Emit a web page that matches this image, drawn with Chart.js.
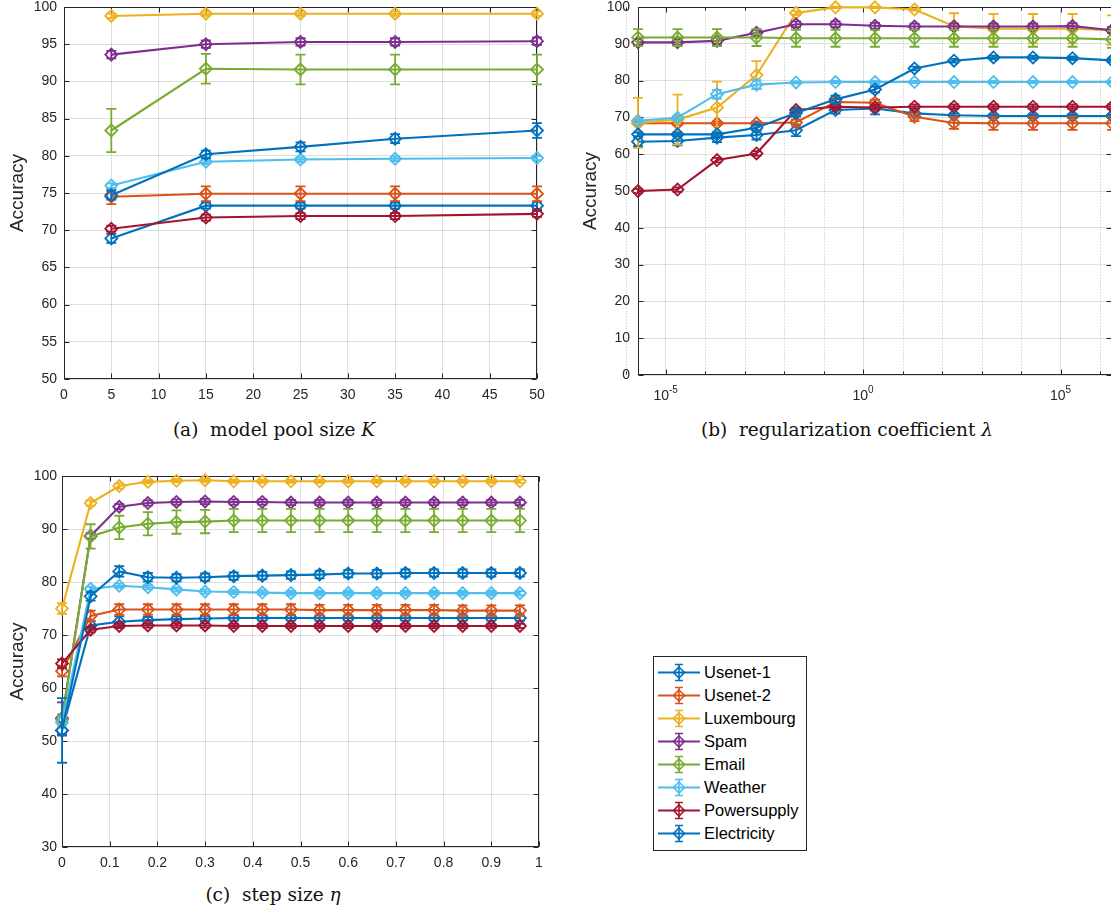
<!DOCTYPE html>
<html>
<head>
<meta charset="utf-8">
<script src="https://cdn.jsdelivr.net/npm/chart.js@4.4.1/dist/chart.umd.min.js"></script>
<style>
html,body{margin:0;padding:0;background:#fff;overflow:hidden;}
#page{position:relative;width:1111px;height:915px;overflow:hidden;background:#fff;}
canvas{position:absolute;}
.cap{position:absolute;font-family:"DejaVu Serif",serif;font-size:18.5px;line-height:18px;color:#111;white-space:nowrap;transform:translateX(-50%);}
#legend{position:absolute;left:653px;top:656px;width:152px;height:189px;border:1px solid #262626;background:#fff;padding-top:4px;box-sizing:content-box;}
#legend .row{display:flex;align-items:center;height:23px;}
#legend svg{margin-left:2px;flex:none;}
#legend span{font-family:"Liberation Sans",Arial,sans-serif;font-size:16.5px;color:#000;}
</style>
</head>
<body>
<div id="page">
  <canvas id="chA"></canvas>
  <canvas id="chB"></canvas>
  <canvas id="chC"></canvas>
  <div class="cap" style="left:274px;top:421px">(a)&nbsp; model pool size <i>K</i></div>
  <div class="cap" style="left:847px;top:421px">(b)&nbsp; regularization coefficient <i>λ</i></div>
  <div class="cap" style="left:273px;top:886px">(c)&nbsp; step size <i>η</i></div>
  <div id="legend"></div>
</div>
<script>
// series order follows the legend
const SERIES = ['Usenet-1', 'Usenet-2', 'Luxembourg', 'Spam', 'Email', 'Weather', 'Powersupply', 'Electricity'];
const COLORS = ['#0072BD', '#D95319', '#EDB120', '#7E2F8E', '#77AC30', '#4DBEEE', '#A2142F', '#0072BD'];

// (a) model pool size K
const poolK = [5, 15, 25, 35, 50];
const accK = [
  [68.9, 73.3, 73.3, 73.3, 73.3],
  [74.5, 74.9, 74.9, 74.9, 74.9],
  [98.8, 99.1, 99.1, 99.1, 99.1],
  [93.6, 95.0, 95.3, 95.3, 95.4],
  [83.4, 91.7, 91.6, 91.6, 91.6],
  [76.0, 79.2, 79.5, 79.6, 79.7],
  [70.2, 71.7, 71.9, 71.9, 72.2],
  [74.7, 80.2, 81.2, 82.3, 83.4]
];
const errK = [
  [0.6, 0.4, 0.4, 0.4, 0.5],
  [1.0, 1.0, 1.0, 1.0, 1.0],
  [0.3, 0.3, 0.3, 0.3, 0.3],
  [0.5, 0.5, 0.5, 0.5, 0.5],
  [2.9, 2.0, 2.0, 2.0, 2.0],
  [0.3, 0.3, 0.3, 0.3, 0.3],
  [0.4, 0.4, 0.4, 0.4, 0.4],
  [0.6, 0.5, 0.6, 0.6, 1.0]
];
const kTicksStep = 5;

// (b) regularization coefficient lambda
const lambdas = [2e-6, 2e-5, 2e-4, 2e-3, 2e-2, 2e-1, 2, 20, 200, 2e3, 2e4, 2e5, 2e6];
const accLambda = [
  [63.4, 63.6, 64.5, 65.2, 66.5, 72.0, 72.4, 71.1, 70.6, 70.4, 70.4, 70.4, 70.4],
  [68.4, 68.4, 68.4, 68.4, 68.6, 74.2, 74.0, 70.2, 68.5, 68.4, 68.4, 68.4, 68.4],
  [68.5, 69.4, 72.7, 81.5, 98.4, 99.9, 99.9, 99.3, 94.8, 94.1, 94.1, 94.1, 93.7],
  [90.4, 90.4, 90.8, 93.0, 95.3, 95.3, 94.9, 94.7, 94.7, 94.7, 94.7, 94.8, 93.7],
  [91.7, 91.7, 91.7, 91.7, 91.5, 91.5, 91.5, 91.5, 91.5, 91.5, 91.5, 91.5, 91.2],
  [69.1, 69.9, 76.3, 78.9, 79.5, 79.6, 79.6, 79.6, 79.6, 79.6, 79.6, 79.6, 79.6],
  [50.0, 50.4, 58.4, 60.2, 72.0, 72.9, 72.7, 72.9, 72.9, 72.9, 72.9, 72.9, 72.9],
  [65.4, 65.4, 65.4, 67.2, 71.2, 74.9, 77.6, 83.3, 85.4, 86.3, 86.3, 86.1, 85.5]
];
const errLambda = [
  [1.2, 1.2, 1.2, 1.2, 1.6, 1.0, 1.6, 0.6, 0.5, 0.5, 0.5, 0.5, 0.5],
  [0.5, 0.5, 0.5, 0.5, 0.8, 0.8, 0.8, 1.2, 1.6, 1.8, 1.8, 1.8, 1.8],
  [6.8, 6.8, 7.0, 3.8, 0.5, 0.2, 0.2, 0.3, 3.5, 4.0, 4.0, 4.0, 4.0],
  [0.8, 0.8, 0.8, 0.8, 0.8, 0.8, 0.8, 0.8, 0.8, 0.8, 0.8, 0.8, 0.8],
  [2.3, 2.3, 2.3, 2.3, 2.3, 2.3, 2.3, 2.3, 2.3, 2.3, 2.3, 2.3, 2.3],
  [0.5, 0.5, 1.2, 1.2, 0.3, 0.3, 0.3, 0.3, 0.3, 0.3, 0.3, 0.3, 0.3],
  [0.6, 0.6, 0.6, 0.6, 0.6, 0.6, 0.6, 0.6, 0.6, 0.6, 0.6, 0.6, 0.6],
  [0.5, 0.5, 0.5, 0.8, 1.0, 1.0, 0.8, 0.5, 0.5, 0.5, 0.5, 0.5, 0.5]
];
const lambdaMajor = [1e-5, 1, 1e5];
const lambdaExp = ['-5', '0', '5'];
const lambdaMinor = [1e-6, 1e-4, 1e-3, 1e-2, 1e-1, 10, 100, 1e3, 1e4, 1e6];

// (c) step size eta
const etas = [0, 0.06, 0.12, 0.18, 0.24, 0.30, 0.36, 0.42, 0.48, 0.54, 0.60, 0.66, 0.72, 0.78, 0.84, 0.90, 0.96];
const accEta = [
  [52.0, 71.8, 72.5, 72.8, 73.0, 73.1, 73.2, 73.2, 73.2, 73.2, 73.2, 73.2, 73.2, 73.2, 73.2, 73.2, 73.2],
  [63.2, 73.6, 74.8, 74.8, 74.8, 74.8, 74.8, 74.8, 74.8, 74.7, 74.7, 74.7, 74.7, 74.7, 74.6, 74.6, 74.6],
  [75.0, 94.9, 98.1, 98.9, 99.1, 99.2, 99.0, 99.0, 99.0, 99.0, 99.0, 99.0, 99.0, 99.0, 99.0, 99.0, 99.0],
  [54.3, 88.7, 94.2, 94.9, 95.1, 95.2, 95.1, 95.1, 95.0, 95.0, 95.0, 95.0, 95.0, 95.0, 95.0, 95.0, 95.0],
  [54.0, 88.6, 90.3, 91.0, 91.3, 91.4, 91.6, 91.6, 91.6, 91.6, 91.6, 91.6, 91.6, 91.6, 91.6, 91.6, 91.6],
  [53.5, 78.7, 79.3, 79.0, 78.6, 78.2, 78.1, 78.0, 77.9, 77.9, 77.9, 77.9, 77.9, 77.9, 77.9, 77.9, 77.9],
  [64.6, 71.0, 71.7, 71.8, 71.8, 71.8, 71.7, 71.7, 71.7, 71.7, 71.7, 71.7, 71.7, 71.7, 71.7, 71.7, 71.7],
  [52.0, 77.3, 82.0, 80.9, 80.8, 80.9, 81.1, 81.2, 81.3, 81.4, 81.6, 81.6, 81.7, 81.7, 81.7, 81.7, 81.7]
];
const errEta = [
  [1.0, 0.8, 1.0, 0.6, 0.5, 0.5, 0.5, 0.5, 0.5, 0.5, 0.5, 0.5, 0.5, 0.5, 0.5, 0.5, 0.5],
  [1.0, 1.0, 1.0, 1.0, 1.0, 1.0, 1.0, 1.0, 1.0, 1.0, 1.0, 1.0, 1.0, 1.0, 1.0, 1.0, 1.0],
  [1.0, 0.5, 0.5, 0.3, 0.3, 0.3, 0.3, 0.3, 0.3, 0.3, 0.3, 0.3, 0.3, 0.3, 0.3, 0.3, 0.3],
  [3.0, 0.5, 0.5, 0.5, 0.5, 0.5, 0.5, 0.5, 0.5, 0.5, 0.5, 0.5, 0.5, 0.5, 0.5, 0.5, 0.5],
  [1.0, 2.3, 2.2, 2.2, 2.2, 2.2, 2.2, 2.2, 2.2, 2.2, 2.2, 2.2, 2.2, 2.2, 2.2, 2.2, 2.2],
  [1.0, 0.4, 0.4, 0.4, 0.4, 0.4, 0.4, 0.4, 0.4, 0.4, 0.4, 0.4, 0.4, 0.4, 0.4, 0.4, 0.4],
  [0.8, 0.5, 0.4, 0.4, 0.4, 0.4, 0.4, 0.4, 0.4, 0.4, 0.4, 0.4, 0.4, 0.4, 0.4, 0.4, 0.4],
  [6.1, 0.8, 1.0, 0.8, 0.7, 0.7, 0.7, 0.7, 0.7, 0.7, 0.7, 0.7, 0.7, 0.7, 0.7, 0.7, 0.7]
];

const AX = '#262626';
const GRID = 'rgba(38,38,38,0.15)';
const SANS = '"Liberation Sans", Arial, sans-serif';

// error bars, drawn with the chart's own y scale
const errorBars = {
  id: 'errorBars',
  afterDatasetDraw(chart, args) {
    const ds = chart.data.datasets[args.index];
    if (!ds.err) return;
    const ys = chart.scales.y, ctx = chart.ctx;
    ctx.save();
    ctx.strokeStyle = ds.borderColor; ctx.lineWidth = 1.8;
    args.meta.data.forEach((pt, i) => {
      const e = ds.err[i]; if (!e) return;
      const v = ds.data[i].y;
      const t = ys.getPixelForValue(v + e), b = ys.getPixelForValue(v - e);
      ctx.beginPath();
      ctx.moveTo(pt.x, t); ctx.lineTo(pt.x, b);
      ctx.moveTo(pt.x - 5, t); ctx.lineTo(pt.x + 5, t);
      ctx.moveTo(pt.x - 5, b); ctx.lineTo(pt.x + 5, b);
      ctx.stroke();
    });
    ctx.restore();
  }
};

// matlab style box: frame, inward ticks, dotted minor grid, 10^n labels
const axesBox = {
  id: 'axesBox',
  beforeDatasetsDraw(chart, args, o) {
    const {ctx, chartArea: a, scales: {x, y}} = chart;
    const L = Math.round(a.left) + 0.5, R = Math.round(a.right) - 0.5;
    const T = Math.round(a.top) + 0.5, B = Math.round(a.bottom) - 0.5;
    ctx.save();
    if (o.minor) {
      ctx.strokeStyle = 'rgba(38,38,38,0.3)'; ctx.lineWidth = 1; ctx.setLineDash([1, 2]);
      o.minor.forEach(v => {
        const px = Math.round(x.getPixelForValue(v)) + 0.5;
        ctx.beginPath(); ctx.moveTo(px, T); ctx.lineTo(px, B); ctx.stroke();
      });
      ctx.setLineDash([]);
    }
    ctx.strokeStyle = AX; ctx.lineWidth = 1;
    ctx.beginPath();
    x.ticks.forEach(t => {
      const px = Math.round(x.getPixelForValue(t.value)) + 0.5;
      ctx.moveTo(px, B); ctx.lineTo(px, B - 5); ctx.moveTo(px, T); ctx.lineTo(px, T + 5);
    });
    (o.minor || []).forEach(v => {
      const px = Math.round(x.getPixelForValue(v)) + 0.5;
      ctx.moveTo(px, B); ctx.lineTo(px, B - 3); ctx.moveTo(px, T); ctx.lineTo(px, T + 3);
    });
    y.ticks.forEach(t => {
      const py = Math.round(y.getPixelForValue(t.value)) + 0.5;
      ctx.moveTo(L, py); ctx.lineTo(L + 5, py); ctx.moveTo(R, py); ctx.lineTo(R - 5, py);
    });
    ctx.stroke();
    ctx.strokeRect(L, T, R - L, B - T);
    ctx.restore();
  },
  afterDraw(chart, args, o) {
    if (!o.sup) return;
    const {ctx, chartArea: a, scales: {x}} = chart;
    ctx.save();
    ctx.fillStyle = AX; ctx.textAlign = 'left'; ctx.textBaseline = 'alphabetic';
    o.sup.forEach((v, i) => {
      const px = x.getPixelForValue(v), e = o.exp[i];
      ctx.font = '14px ' + SANS; const w1 = ctx.measureText('10').width;
      ctx.font = '10px ' + SANS; const w2 = ctx.measureText(e).width;
      const x0 = px - (w1 + w2) / 2;
      ctx.font = '14px ' + SANS; ctx.fillText('10', x0, a.bottom + 25);
      ctx.font = '10px ' + SANS; ctx.fillText(e, x0 + w1, a.bottom + 18);
    });
    ctx.restore();
  }
};

function makeSets(xs, acc, err) {
  return SERIES.map((name, s) => ({
    label: name,
    data: xs.map((x, i) => ({x: x, y: acc[s][i]})),
    err: err[s],
    borderColor: COLORS[s],
    pointBorderColor: COLORS[s],
    pointBackgroundColor: 'rgba(0,0,0,0)',
    pointStyle: 'rectRot',
    pointRadius: 6,
    pointBorderWidth: 1.8,
    borderWidth: 2.1,
    tension: 0,
    order: SERIES.length - s,
    clip: false
  }));
}

// sizes the canvas so the plot area lands on the given page rectangle
function mount(id, area, yW, xH) {
  const pad = {left: 6, top: 20, right: 30, bottom: 6};
  const cv = document.getElementById(id);
  const w = area.r - area.l + yW + pad.left + pad.right;
  const h = area.b - area.t + xH + pad.top + pad.bottom;
  cv.width = w; cv.height = h;
  cv.style.width = w + 'px'; cv.style.height = h + 'px';
  cv.style.left = (area.l - yW - pad.left) + 'px';
  cv.style.top = (area.t - pad.top) + 'px';
  return pad;
}

const fmtTick = v => String(Number(v.toFixed(2)));

function drawPanel(id, area, cfg) {
  const pad = mount(id, area, cfg.yW, 30);
  const xScale = Object.assign({
    grid: {color: GRID, drawTicks: false},
    border: {display: false},
    afterFit: s => { s.height = 30; }
  }, cfg.x);
  new Chart(document.getElementById(id), {
    type: 'line',
    data: {datasets: makeSets(cfg.xs, cfg.acc, cfg.err)},
    options: {
      responsive: false, animation: false, devicePixelRatio: 1,
      layout: {padding: pad},
      plugins: {legend: {display: false}, tooltip: {enabled: false}, axesBox: cfg.box || {}},
      scales: {
        x: xScale,
        y: {
          min: cfg.yMin, max: 100,
          grid: {color: GRID, drawTicks: false},
          border: {display: false},
          ticks: {stepSize: cfg.yStep, font: {family: SANS, size: 14}, color: AX, padding: cfg.yPad},
          title: {display: true, text: 'Accuracy', color: AX, font: {family: SANS, size: 19}, padding: {top: 6.6, bottom: 0}},
          afterFit: s => { s.width = cfg.yW; }
        }
      }
    },
    plugins: [axesBox, errorBars]
  });
}

drawPanel('chA', {l: 64, r: 537, t: 7, b: 379}, {
  xs: poolK, acc: accK, err: errK, yMin: 50, yStep: 5, yPad: 7, yW: 64,
  x: {type: 'linear', min: 0, max: 50, ticks: {stepSize: kTicksStep, font: {family: SANS, size: 14}, color: AX, padding: 8, maxRotation: 0, callback: fmtTick}}
});

drawPanel('chB', {l: 638, r: 1112, t: 7, b: 375}, {
  xs: lambdas, acc: accLambda, err: errLambda, yMin: 0, yStep: 10, yPad: 8, yW: 65,
  x: {type: 'logarithmic', min: 2e-6, max: 2e6, ticks: {display: false},
      afterBuildTicks: s => { s.ticks = lambdaMajor.map(v => ({value: v})); }},
  box: {minor: lambdaMinor, sup: lambdaMajor, exp: lambdaExp}
});

drawPanel('chC', {l: 62, r: 539, t: 476, b: 847}, {
  xs: etas, acc: accEta, err: errEta, yMin: 30, yStep: 10, yPad: 5, yW: 62,
  x: {type: 'linear', min: 0, max: 1, ticks: {stepSize: 0.1, font: {family: SANS, size: 14}, color: AX, padding: 8, maxRotation: 0, callback: fmtTick}}
});

// legend
const leg = document.getElementById('legend');
SERIES.forEach((name, s) => {
  const c = COLORS[s];
  const row = document.createElement('div');
  row.className = 'row';
  row.innerHTML =
    '<svg width="48" height="23" viewBox="0 0 48 23">' +
    '<line x1="2" y1="11.5" x2="44" y2="11.5" stroke="' + c + '" stroke-width="2"/>' +
    '<path d="M23 3.5V19.5M19 3.5H27M19 19.5H27" stroke="' + c + '" stroke-width="1.6" fill="none"/>' +
    '<path d="M23 6L28.5 11.5L23 17L17.5 11.5Z" stroke="' + c + '" stroke-width="1.6" fill="none"/>' +
    '</svg><span>' + name + '</span>';
  leg.appendChild(row);
});
</script>
</body>
</html>
